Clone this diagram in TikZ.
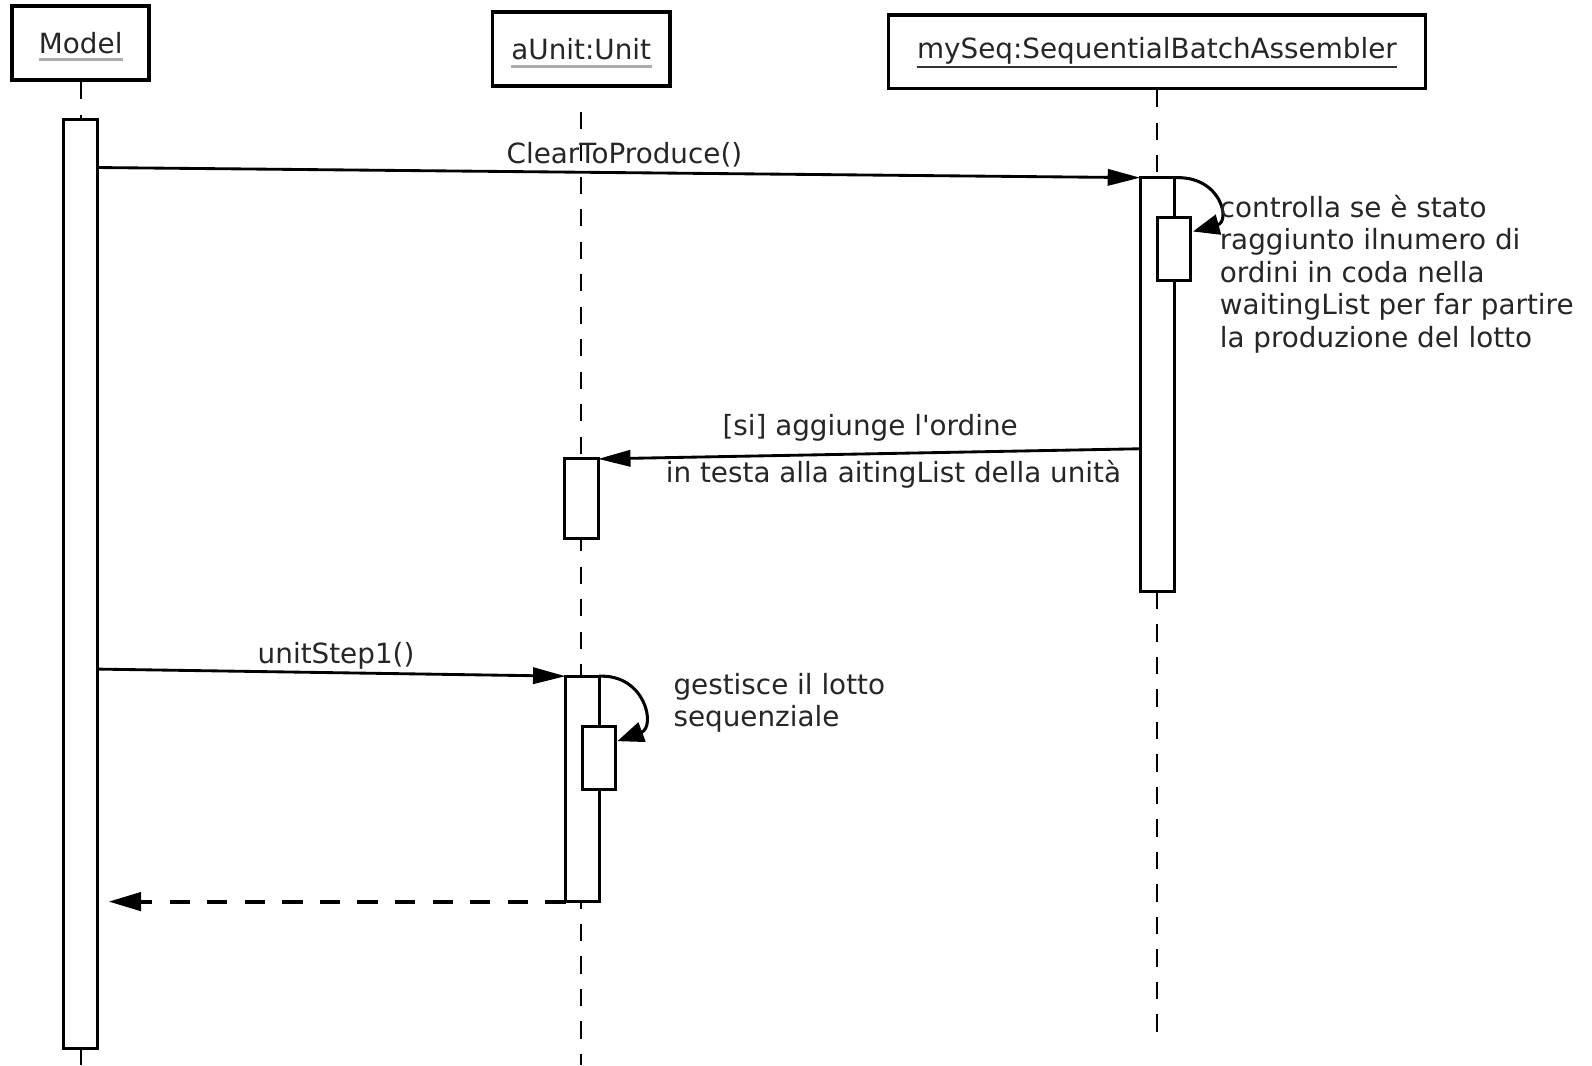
\documentclass[tikz,border=0pt]{standalone}
\usepackage{fontspec}
\setmainfont{DejaVu Sans}
\usetikzlibrary{arrows.meta,calc}
\begin{document}
\begin{tikzpicture}[x=0.5pt,y=-0.5pt,
  txt/.style={font=\fontsize{13.7}{16}\selectfont, text=black!85, inner sep=0pt},
  head/.style={draw, line width=1.8pt, minimum height=36.5pt, inner sep=0pt},
  act/.style={draw, fill=white, line width=1.5pt, minimum width=16.5pt, inner sep=0pt, outer sep=0pt},
  life/.style={line width=1.1pt, dash pattern=on 8.5pt off 7.5pt},
  msg/.style={line width=1.4pt, -{Triangle[length=16pt,width=8pt]}},
  selfcall/.style={line width=1.5pt, -{Triangle[length=13pt,width=10pt]}},
  ul/.style={line width=1.4pt, gray!65}
]
\useasboundingbox (0,0) rectangle (1568,1049);

% object heads
\node[head, minimum width=67.5pt] (hM) at (79.5,42.5) {};
\node[head, minimum width=87.5pt] (hU) at (572.5,48.5) {};
\node[head, minimum width=264.5pt, minimum height=36pt] (hS) at (1139.5,51) {};
\node[txt] (tM) at (79.5,42) {Model};
\node[txt] (tU) at (572.5,48) {aUnit:Unit};
\node[txt] (tS) at (1139.5,50) {mySeq:SequentialBatchAssembler};
\draw[ul] ([yshift=-3pt]tM.base west) -- ([yshift=-3pt]tM.base east);
\draw[ul] ([yshift=-3.5pt]tU.base west) -- ([yshift=-3.5pt]tU.base east);
\draw[line width=1pt, black!80] ([yshift=-4pt]tS.base west) -- ([yshift=-4pt]tS.base east);

% lifeline ends
\coordinate (botM) at (79.5,1049);
\coordinate (botU) at (572.5,1049);
\coordinate (botS) at (1139.5,1030);

% lifelines (drawn first, the bars cover them)
\coordinate (topU) at (572.5,110);
\draw[life] (hM.south) -- (79.5,118);
\draw[life] (79.5,1033) -- (botM);
\draw[life] (topU) -- (botU);
\draw[life] (hS.south) -- (1139.5,175);
\draw[life] (1139.5,583) -- (botS);

% activation bars
\node[act, minimum height=457.5pt] (aM) at (79.5,575.5) {};
\node[act, minimum width=17pt, minimum height=204pt] (aS) at (1140,379) {};
\node[act, minimum height=39pt] (aU1) at (572.5,491) {};
\node[act, minimum height=111pt] (aU2) at (573.5,777) {};

% nested activations
\node[act, minimum height=31pt] (aSn) at (1156.5,245) {};
\node[act, minimum width=16pt, minimum height=31pt] (aUn) at (590,747) {};

% message end points
\coordinate (c1) at (96,165);
\coordinate (c2) at (1123,442);
\coordinate (c3) at (96,659);
\coordinate (c4) at (107,888);
\coordinate (tipS) at (1175,228);
\coordinate (tipU) at (608,730);

% messages
\draw[msg] (c1) -- (aS.north west);
\draw[msg] (c2) -- (aU1.north east);
\draw[msg] (c3) -- (aU2.north west);
% dashed return
\draw[line width=1.9pt, dash pattern=on 10pt off 8.5pt, -{Triangle[length=16pt,width=9pt]}] (aU2.south west) -- (c4);

% self calls
\draw[selfcall] (aS.north east) .. controls (1203,173) and (1212,218) .. (tipS);
\draw[selfcall] (aU2.north east) .. controls (636,664) and (646,716) .. (tipU);

% labels
\node[txt] (l1) at (615,152) {ClearToProduce()};
\node[txt] (l2) at (857,421) {[si] aggiunge l\textquotesingle ordine};
\node[txt] (l3) at (880,467) {in testa alla aitingList della unità};
\node[txt] (l4) at (331,646) {unitStep1()};
\node[txt, align=left, anchor=west] (n1) at (1201,270) {controlla se è stato\\raggiunto ilnumero di\\ordini in coda nella\\waitingList per far partire\\la produzione del lotto};
\node[txt, align=left, anchor=west] (n2) at (663,692) {gestisce il lotto\\sequenziale};
\end{tikzpicture}
\end{document}
